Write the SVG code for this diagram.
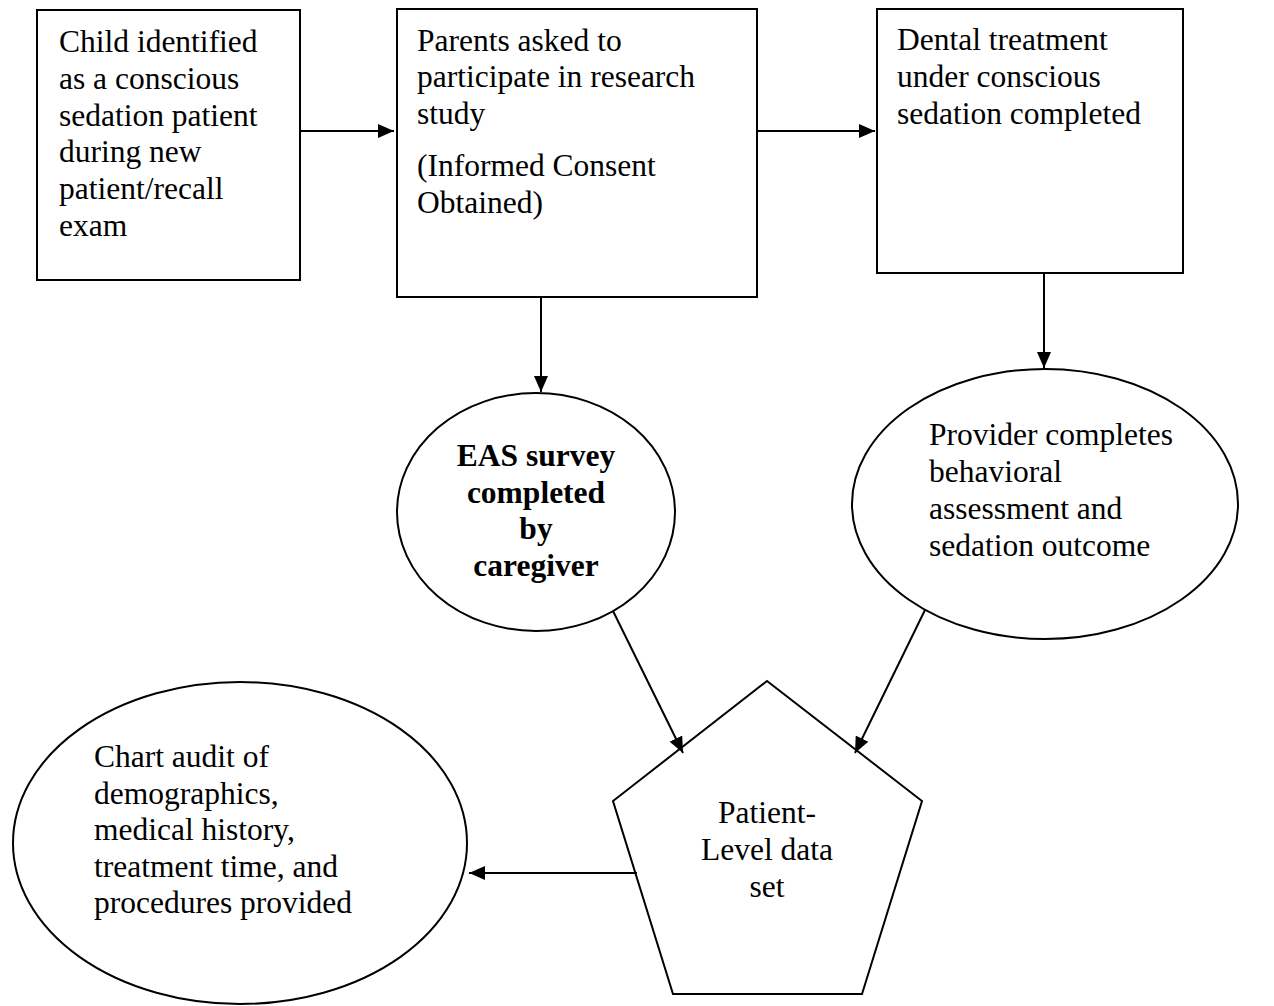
<svg xmlns="http://www.w3.org/2000/svg" width="1274" height="1006" viewBox="0 0 1274 1006">
<defs>
<marker id="ah" markerUnits="userSpaceOnUse" markerWidth="16" markerHeight="14" refX="16" refY="7" orient="auto">
<path d="M0,0 L16,7 L0,14 z" fill="#000"/>
</marker>
</defs>
<style>
.shape{fill:#fff;stroke:#000;stroke-width:2}
.t{font-family:"Liberation Serif","Times New Roman",serif;font-size:31.5px;fill:#000}
.b{font-weight:bold}
.c{text-anchor:middle}
.conn line{stroke:#000;stroke-width:2;marker-end:url(#ah)}
</style>
<rect width="1274" height="1006" fill="#fff"/>
<g id="node-child">
<rect class="shape" x="37" y="10" width="263" height="270"/>
<text class="t" x="59"><tspan x="59" y="52">Child identified</tspan><tspan x="59" y="89">as a conscious</tspan><tspan x="59" y="126">sedation patient</tspan><tspan x="59" y="162">during new</tspan><tspan x="59" y="199">patient/recall</tspan><tspan x="59" y="236">exam</tspan></text>
</g>
<g id="node-parents">
<rect class="shape" x="397" y="9" width="360" height="288"/>
<text class="t"><tspan x="417" y="51">Parents asked to</tspan><tspan x="417" y="87">participate in research</tspan><tspan x="417" y="124">study</tspan><tspan x="417" y="176">(Informed Consent</tspan><tspan x="417" y="213">Obtained)</tspan></text>
</g>
<g id="node-dental">
<rect class="shape" x="877" y="9" width="306" height="264"/>
<text class="t"><tspan x="897" y="50">Dental treatment</tspan><tspan x="897" y="87">under conscious</tspan><tspan x="897" y="124">sedation completed</tspan></text>
</g>
<g id="node-eas">
<ellipse class="shape" cx="536" cy="512" rx="139" ry="119"/>
<text class="t b c"><tspan x="536" y="466">EAS survey</tspan><tspan x="536" y="503">completed</tspan><tspan x="536" y="539">by</tspan><tspan x="536" y="576">caregiver</tspan></text>
</g>
<g id="node-provider">
<ellipse class="shape" cx="1045" cy="504" rx="193" ry="135"/>
<text class="t"><tspan x="929" y="445">Provider completes</tspan><tspan x="929" y="482">behavioral</tspan><tspan x="929" y="519">assessment and</tspan><tspan x="929" y="556">sedation outcome</tspan></text>
</g>
<g id="node-chart">
<ellipse class="shape" cx="240" cy="843" rx="227" ry="161"/>
<text class="t"><tspan x="94" y="767">Chart audit of</tspan><tspan x="94" y="804">demographics,</tspan><tspan x="94" y="840">medical history,</tspan><tspan x="94" y="877">treatment time, and</tspan><tspan x="94" y="913">procedures provided</tspan></text>
</g>
<g id="node-dataset">
<polygon class="shape" points="767,681 922,801 862,994 673,994 613,801"/>
<text class="t c"><tspan x="767" y="823">Patient-</tspan><tspan x="767" y="860">Level data</tspan><tspan x="767" y="897">set</tspan></text>
</g>
<g id="connectors" class="conn">
<line x1="300" y1="131" x2="394" y2="131"/>
<line x1="757" y1="131" x2="875" y2="131"/>
<line x1="541" y1="297" x2="541" y2="392"/>
<line x1="1044" y1="273" x2="1044" y2="368"/>
<line x1="613" y1="611" x2="683" y2="753"/>
<line x1="925" y1="610" x2="855" y2="753"/>
<line x1="637" y1="873" x2="469" y2="873"/>
</g>
</svg>
